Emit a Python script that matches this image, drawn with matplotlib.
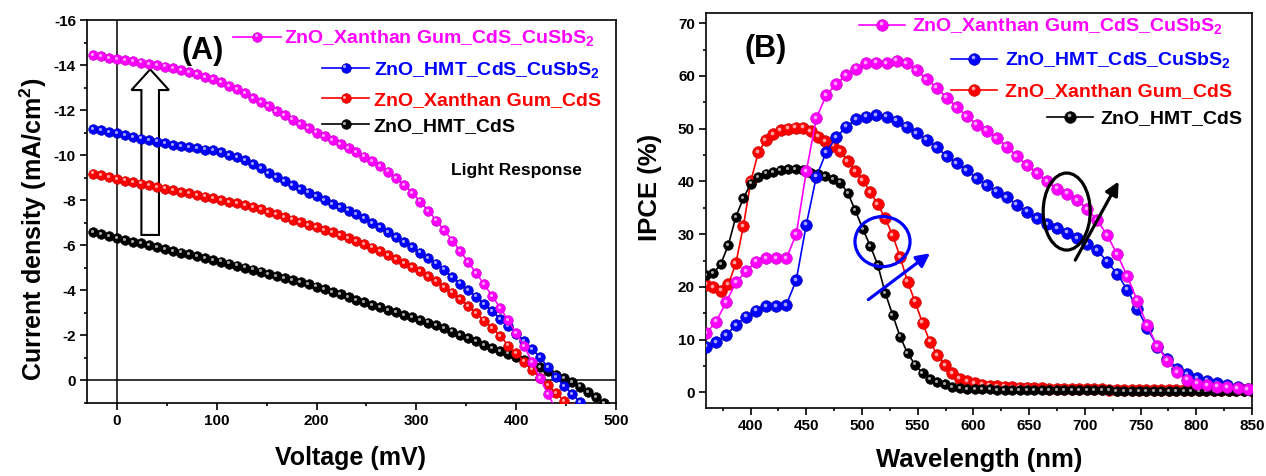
import matplotlib
matplotlib.use("Agg")
import matplotlib.pyplot as plt
from matplotlib.patches import Ellipse, FancyArrow
from matplotlib.ticker import MultipleLocator
from matplotlib.transforms import offset_copy

# ---------------- data: (A) J-V curves ----------------
voltage = [-24, -16, -8, 0, 8, 16, 24, 32, 40, 48, 56, 64, 72, 80, 88, 96,
           104, 112, 120, 128, 136, 144, 152, 160, 168, 176, 184, 192, 200,
           208, 216, 224, 232, 240, 248, 256, 264, 272, 280, 288, 296, 304,
           312, 320, 328, 336, 344, 352, 360, 368, 376, 384, 392, 400, 408,
           416, 424, 432, 440, 448, 456, 464, 472, 480, 488, 496]

j_xg_cds_cusbs2 = [-14.44, -14.38, -14.31, -14.25, -14.21, -14.16, -14.11, -14.06,
                   -14.00, -13.93, -13.86, -13.78, -13.69, -13.59, -13.48, -13.37,
                   -13.23, -13.08, -12.92, -12.74, -12.55, -12.36, -12.17, -11.97,
                   -11.78, -11.58, -11.38, -11.19, -11.00, -10.83, -10.66, -10.49,
                   -10.32, -10.14, -9.94, -9.73, -9.51, -9.27, -8.98, -8.67,
                   -8.33, -7.94, -7.53, -7.10, -6.66, -6.21, -5.74, -5.25,
                   -4.76, -4.26, -3.75, -3.22, -2.67, -2.10, -1.51, -0.82,
                   -0.10, 0.62, 1.30]

j_hmt_cds_cusbs2 = [-11.15, -11.10, -11.04, -10.97, -10.90, -10.82, -10.74, -10.67,
                    -10.60, -10.53, -10.46, -10.40, -10.35, -10.30, -10.25, -10.22,
                    -10.12, -10.01, -9.90, -9.78, -9.62, -9.42, -9.20, -9.03,
                    -8.86, -8.68, -8.51, -8.34, -8.17, -8.00, -7.84, -7.69,
                    -7.54, -7.39, -7.21, -7.00, -6.79, -6.57, -6.37, -6.15,
                    -5.92, -5.68, -5.44, -5.19, -4.92, -4.58, -4.30, -4.02,
                    -3.72, -3.40, -3.08, -2.74, -2.40, -2.08, -1.76, -1.40,
                    -1.02, -0.59, -0.14, 0.24, 0.59, 0.96]

j_xg_cds = [-9.18, -9.10, -9.01, -8.93, -8.87, -8.81, -8.74, -8.67,
            -8.60, -8.52, -8.45, -8.38, -8.31, -8.24, -8.16, -8.09,
            -8.01, -7.93, -7.86, -7.78, -7.69, -7.59, -7.49, -7.39,
            -7.27, -7.14, -7.02, -6.90, -6.80, -6.68, -6.57, -6.45,
            -6.32, -6.18, -6.04, -5.90, -5.76, -5.58, -5.40, -5.22,
            -5.04, -4.84, -4.62, -4.40, -4.16, -3.90, -3.62, -3.32,
            -2.98, -2.66, -2.33, -1.98, -1.55, -1.20, -0.84, -0.48,
            -0.12, 0.22, 0.56, 0.90, 1.24]

j_hmt_cds = [-6.58, -6.50, -6.41, -6.32, -6.24, -6.16, -6.08, -6.00,
             -5.92, -5.84, -5.76, -5.68, -5.60, -5.52, -5.44, -5.36,
             -5.28, -5.19, -5.10, -5.01, -4.92, -4.83, -4.74, -4.65,
             -4.56, -4.47, -4.37, -4.27, -4.17, -4.06, -3.94, -3.82,
             -3.70, -3.58, -3.47, -3.36, -3.25, -3.14, -3.03, -2.92,
             -2.81, -2.69, -2.57, -2.44, -2.31, -2.17, -2.03, -1.88,
             -1.73, -1.58, -1.45, -1.32, -1.19, -1.06, -0.91, -0.75,
             -0.59, -0.42, -0.26, -0.10, 0.07, 0.27, 0.50, 0.74,
             1.00, 1.25]

# ---------------- data: (B) IPCE spectra ----------------
wl_fine = [360.0, 366.7, 373.4, 380.1, 386.8, 393.5, 400.2, 406.9, 413.6, 420.3,
           427.0, 433.7, 440.4, 447.1, 453.8, 460.5, 467.2, 473.9, 480.6, 487.3,
           494.0, 500.7, 507.4, 514.1, 520.8, 527.5, 534.2, 540.9, 547.6, 554.3,
           561.0, 567.7, 574.4, 581.1, 587.8, 594.5, 601.2, 607.9, 614.6, 621.3,
           628.0, 634.7, 641.4, 648.1, 654.8, 661.5, 668.2, 674.9, 681.6, 688.3,
           695.0, 701.7, 708.4, 715.1, 721.8, 728.5, 735.2, 741.9, 748.6, 755.3,
           762.0, 768.7, 775.4, 782.1, 788.8, 795.5, 802.2, 808.9, 815.6, 822.3,
           829.0, 835.7, 842.4, 849.1]

wl_coarse = [360, 369, 378, 387, 396, 405, 414, 423, 432, 441, 450, 459, 468, 477,
             486, 495, 504, 513, 522, 531, 540, 549, 558, 567, 576, 585, 594, 603,
             612, 621, 630, 639, 648, 657, 666, 675, 684, 693, 702, 711, 720, 729,
             738, 747, 756, 765, 774, 783, 792, 801, 810, 819, 828, 837, 846]

ipce_xg_cds_cusbs2 = [11.2, 13.4, 17.1, 20.9, 23.0, 24.8, 25.4, 25.4, 25.4, 30.0,
                      41.9, 52.0, 56.4, 58.5, 60.2, 61.4, 62.4, 62.5, 62.4, 62.9,
                      62.4, 61.1, 59.4, 57.8, 55.9, 54.1, 52.4, 50.8, 49.6, 48.2,
                      46.6, 44.8, 43.1, 41.6, 40.0, 38.6, 37.7, 36.5, 34.8, 32.7,
                      29.8, 26.2, 22.1, 17.4, 12.7, 8.8, 6.0, 3.8, 2.4, 1.65,
                      1.4, 1.1, 0.95, 0.8, 0.65]

ipce_hmt_cds_cusbs2 = [8.7, 9.5, 10.9, 12.8, 14.4, 15.5, 16.3, 16.4, 16.6, 21.3,
                       31.8, 40.9, 45.6, 48.4, 50.4, 51.8, 52.3, 52.6, 52.3, 51.5,
                       50.4, 49.2, 47.9, 46.5, 44.8, 43.5, 42.1, 40.6, 39.3, 38.1,
                       37.0, 35.6, 34.3, 33.0, 31.9, 31.1, 30.3, 29.2, 28.1, 27.0,
                       24.8, 22.5, 19.5, 15.9, 12.2, 8.7, 6.4, 4.5, 3.5, 2.7,
                       2.2, 1.8, 1.5, 1.1, 0.7]

ipce_xg_cds = [20.4, 20.0, 19.3, 20.5, 24.5, 31.5, 40.0, 45.5, 47.8, 49.0,
               49.7, 50.0, 50.2, 50.2, 49.5, 48.5, 47.6, 46.8, 45.7, 43.9,
               42.0, 40.3, 38.0, 35.7, 33.0, 29.8, 25.7, 21.0, 17.2, 13.2,
               9.6, 7.1, 5.2, 3.7, 2.6, 2.1, 1.8, 1.5, 1.3, 1.2,
               1.1, 1.0, 0.9, 0.9, 0.8, 0.8, 0.7, 0.7, 0.7, 0.6,
               0.6, 0.6, 0.6, 0.6, 0.5, 0.5, 0.5, 0.5, 0.5, 0.5,
               0.5, 0.5, 0.5, 0.5, 0.5, 0.5, 0.5, 0.5, 0.5, 0.5,
               0.5, 0.5, 0.5, 0.5]

ipce_hmt_cds = [22.2, 22.6, 24.4, 28.0, 33.3, 36.8, 39.6, 40.9, 41.5, 41.8,
                42.1, 42.3, 42.4, 42.1, 41.6, 41.5, 41.0, 40.4, 39.8, 37.8,
                34.5, 31.0, 27.8, 24.2, 18.9, 14.7, 10.6, 7.4, 5.3, 3.6,
                2.6, 2.0, 1.6, 1.1, 0.8, 0.7, 0.6, 0.6, 0.6, 0.5,
                0.5, 0.5, 0.5, 0.5, 0.5, 0.5, 0.4, 0.4, 0.4, 0.4,
                0.4, 0.4, 0.4, 0.4, 0.4, 0.3, 0.3, 0.3, 0.3, 0.3,
                0.3, 0.3, 0.3, 0.3, 0.3, 0.3, 0.3, 0.3, 0.3, 0.3,
                0.3, 0.3, 0.3, 0.3]

labels = ['ZnO_Xanthan Gum_CdS_CuSbS$_2$', 'ZnO_HMT_CdS_CuSbS$_2$',
          'ZnO_Xanthan Gum_CdS', 'ZnO_HMT_CdS']
colors = ['#ff00ff', '#0000ff', '#ff0000', '#000000']
edges = ['#c000c0', '#0000a0', '#c00000', '#000000']

plt.rcParams['font.family'] = ['Liberation Sans', 'DejaVu Sans']
plt.rcParams['font.weight'] = 'bold'
plt.rcParams['axes.labelweight'] = 'bold'
plt.rcParams['axes.unicode_minus'] = False
plt.rcParams['mathtext.fontset'] = 'custom'
plt.rcParams['mathtext.rm'] = 'Liberation Sans:bold'
plt.rcParams['mathtext.bf'] = 'Liberation Sans:bold'
plt.rcParams['mathtext.it'] = 'Liberation Sans:bold'
plt.rcParams['mathtext.default'] = 'bf'

W, H = 1266, 476
fig = plt.figure(figsize=(W / 100, H / 100), dpi=100)
ax1 = fig.add_axes([87 / W, 1 - 403 / H, 529 / W, 383 / H])
ax2 = fig.add_axes([706 / W, 1 - 408.3 / H, 546 / W, 395.6 / H])


def balls(ax, x, y, color, edge, ms, z, transform=None, clip=True, **kw):
    # Origin-style shaded ball markers: filled circle plus a small highlight
    base = ax.transData if transform is None else transform
    ax.plot(x, y, '-', color=color, lw=1.2, marker='o', ms=ms, mfc=color,
            mec=edge, mew=0.4, zorder=z, transform=base, clip_on=clip, **kw)
    hl = offset_copy(base, fig=fig, x=-ms * 0.12, y=ms * 0.12, units='points')
    ax.plot(x, y, 'o', ls='none', ms=ms * 0.32, color='white', alpha=0.65,
            mew=0, zorder=z + 0.1, transform=hl, clip_on=clip, **kw)


def legend_entry(ax, x0, x1, yc, text_x, label, color, edge, ms):
    # positions in figure pixels measured from the top-left corner
    xs = [x0 / W, (x0 + x1) / 2 / W, x1 / W]
    ys = [1 - yc / H] * 3
    balls(ax, xs, ys, color, edge, ms, 10, transform=fig.transFigure,
          clip=False, markevery=[1])
    ax.text(text_x / W, 1 - (yc + 7) / H, label, transform=fig.transFigure,
            color=color, fontsize=14, fontweight='bold', va='baseline', ha='left')


def style_axes(ax):
    for sp in ax.spines.values():
        sp.set_linewidth(1.2)
    ax.tick_params(which='both', direction='out', top=False, right=False,
                   width=1.2, labelsize=11)
    ax.tick_params(which='major', length=5, pad=3)
    ax.tick_params(which='minor', length=2.5)


# ---------------- (A) ----------------
series_a = [j_xg_cds_cusbs2, j_hmt_cds_cusbs2, j_xg_cds, j_hmt_cds]
order = [3, 2, 1, 0]
ax1.axvline(0, color='black', lw=1.1, zorder=1)
ax1.axhline(0, color='black', lw=1.1, zorder=1)
ax1.add_patch(FancyArrow(33.3, -6.46, 0, -7.35, width=17.6, head_width=37.6,
                         head_length=0.92, length_includes_head=True,
                         fc='white', ec='black', lw=1.5, zorder=2))
for z, i in enumerate(order):
    vals = series_a[i]
    balls(ax1, voltage[:len(vals)], vals, colors[i], edges[i], 7.0, 3 + z)

ax1.set_xlim(-30, 500)
ax1.set_ylim(1, -16)
ax1.xaxis.set_major_locator(MultipleLocator(100))
ax1.xaxis.set_minor_locator(MultipleLocator(50))
ax1.yaxis.set_major_locator(MultipleLocator(2))
ax1.yaxis.set_minor_locator(MultipleLocator(1))
style_axes(ax1)
ax1.set_xlabel('Voltage (mV)', fontsize=18)
ax1.set_ylabel('Current density (mA/cm$^2$)', fontsize=18)
ax1.xaxis.set_label_coords(0.499, -0.1436)
ax1.xaxis.label.set_va('center')
ax1.yaxis.set_label_coords(-0.102, 0.452)
ax1.yaxis.label.set_va('center')
ax1.text(0.219, 0.919, '(A)', transform=ax1.transAxes, fontsize=22,
         fontweight='bold', ha='center', va='center')
ax1.text(0.811, 0.608, 'Light Response', transform=ax1.transAxes, fontsize=12.5,
         fontweight='bold', ha='center', va='center')

legend_entry(ax1, 233, 281, 36.5, 284, labels[0], colors[0], edges[0], 7.0)
legend_entry(ax1, 322, 369, 67.5, 373.5, labels[1], colors[1], edges[1], 7.0)
legend_entry(ax1, 322, 369, 98.3, 373.5, labels[2], colors[2], edges[2], 7.0)
legend_entry(ax1, 322, 369, 124, 373.5, labels[3], colors[3], edges[3], 7.0)

# ---------------- (B) ----------------
series_b = [(wl_coarse, ipce_xg_cds_cusbs2, 8.4), (wl_coarse, ipce_hmt_cds_cusbs2, 8.4),
            (wl_fine, ipce_xg_cds, 8.4), (wl_fine, ipce_hmt_cds, 7.0)]
order_b = [2, 3, 1, 0]
for z, i in enumerate(order_b):
    wl, vals, ms = series_b[i]
    balls(ax2, wl, vals, colors[i], edges[i], ms, 3 + z)

ax2.add_patch(Ellipse((518.4, 28.6), 49.4, 9.5, fill=False, ec='#0000ff',
                      lw=2.3, zorder=9))
ax2.annotate('', xy=(561.1, 26.4), xytext=(505.7, 17.6),
             arrowprops=dict(arrowstyle='-|>', color='#0000ff', lw=2.3,
                             mutation_scale=20, shrinkA=0, shrinkB=0), zorder=9)
ax2.add_patch(Ellipse((683.7, 34.3), 42.2, 14.6, fill=False, ec='black',
                      lw=2.3, zorder=9))
ax2.annotate('', xy=(730.3, 40.0), xytext=(691.4, 25.1),
             arrowprops=dict(arrowstyle='-|>', color='black', lw=2.3,
                             mutation_scale=20, shrinkA=0, shrinkB=0), zorder=9)

ax2.set_xlim(360, 850)
ax2.set_ylim(-3, 72)
ax2.xaxis.set_major_locator(MultipleLocator(50))
ax2.xaxis.set_minor_locator(MultipleLocator(25))
ax2.yaxis.set_major_locator(MultipleLocator(10))
ax2.yaxis.set_minor_locator(MultipleLocator(5))
style_axes(ax2)
ax2.set_xlabel('Wavelength (nm)', fontsize=18.5)
ax2.set_ylabel('IPCE (%)', fontsize=18.5)
ax2.xaxis.set_label_coords(0.5, -0.131)
ax2.xaxis.label.set_va('center')
ax2.yaxis.set_label_coords(-0.103, 0.558)
ax2.yaxis.label.set_va('center')
ax2.text(0.11, 0.908, '(B)', transform=ax2.transAxes, fontsize=22,
         fontweight='bold', ha='center', va='center')

legend_entry(ax2, 859.3, 905, 24.5, 911.7, labels[0], colors[0], edges[0], 8.4)
legend_entry(ax2, 951, 997, 58.5, 1005, labels[1], colors[1], edges[1], 8.4)
legend_entry(ax2, 951, 997, 89.5, 1005, labels[2], colors[2], edges[2], 8.4)
legend_entry(ax2, 1046.7, 1093.3, 116.5, 1100, labels[3], colors[3], edges[3], 8.4)

fig.savefig('out.png', dpi=100)
